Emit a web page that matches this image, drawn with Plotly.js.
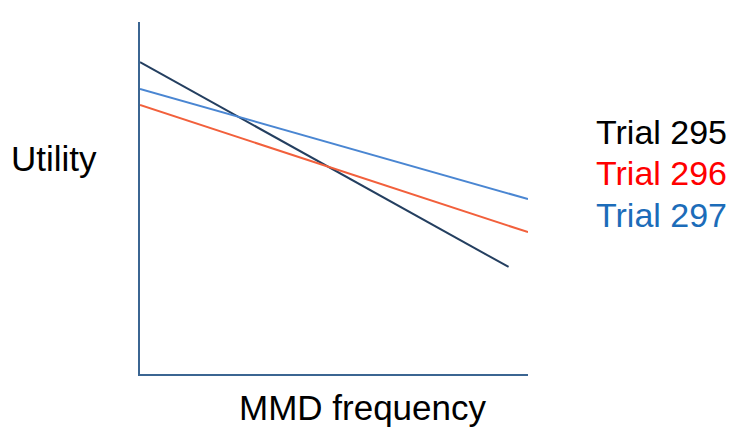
<!DOCTYPE html>
<html>
<head>
<meta charset="utf-8">
<script src="https://cdn.plot.ly/plotly-3.0.1.min.js"></script>
<style>html,body{margin:0;padding:0;background:#fff;}#chart{width:731px;height:430px;}</style>
</head>
<body>
<div id="chart"></div>
<script>
// Data (schematic values, axis units 0-10)
const trialNames = ['Trial 295', 'Trial 296', 'Trial 297'];
const x295 = [0, 9.5];
const y295 = [8.86, 3.04];
const x296 = [0, 10];
const y296 = [7.64, 4.03];
const x297 = [0, 10];
const y297 = [8.10, 4.97];
const xAxisLabel = 'MMD frequency';
const yAxisLabel = 'Utility';

const lineColors = ['#243F60', '#F2603C', '#4A86D2'];
const textColors = ['#000000', '#FF0000', '#1C6CB9'];
const FONT = '"Liberation Sans", Arial, sans-serif';

const xs = [x295, x296, x297];
const ys = [y295, y296, y297];
const traces = trialNames.map((n, i) => ({
  type: 'scatter', mode: 'lines', name: n,
  x: xs[i], y: ys[i],
  line: {color: lineColors[i], width: 2},
  hoverinfo: 'skip'
}));

const legendY = [0.6875, 0.571, 0.452];
const annotations = trialNames.map((n, i) => ({
  text: n, xref: 'paper', yref: 'paper', x: 1.17, y: legendY[i],
  xanchor: 'left', yanchor: 'middle', showarrow: false,
  font: {family: FONT, size: 34, color: textColors[i]}
}));
annotations.push({
  text: yAxisLabel, xref: 'paper', yref: 'paper', x: -0.2216, y: 0.6136,
  xanchor: 'center', yanchor: 'middle', showarrow: false,
  font: {family: FONT, size: 35, color: '#000'}
});
annotations.push({
  text: xAxisLabel, xref: 'paper', yref: 'paper', x: 0.5747, y: -0.095,
  xanchor: 'center', yanchor: 'middle', showarrow: false,
  font: {family: FONT, size: 35, color: '#000'}
});

const axisCommon = {
  showline: true, linecolor: '#3B6592', linewidth: 2,
  showgrid: false, zeroline: false, showticklabels: false, ticks: '',
  fixedrange: true
};

const layout = {
  width: 731, height: 430,
  margin: {l: 140, r: 203, t: 22, b: 56},
  paper_bgcolor: '#ffffff', plot_bgcolor: '#ffffff',
  showlegend: false,
  xaxis: Object.assign({range: [0, 10]}, axisCommon),
  yaxis: Object.assign({range: [0, 10]}, axisCommon),
  annotations: annotations
};

Plotly.newPlot('chart', traces, layout, {displayModeBar: false, staticPlot: true});
</script>
</body>
</html>
